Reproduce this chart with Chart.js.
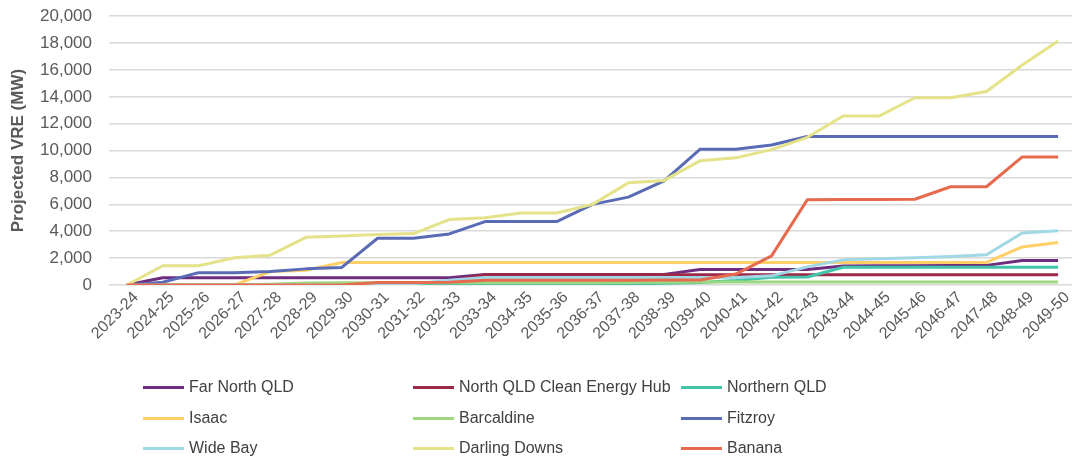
<!DOCTYPE html>
<html>
<head>
<meta charset="utf-8">
<script src="https://cdn.jsdelivr.net/npm/chart.js@4/dist/chart.umd.min.js"></script>
<style>
  html, body { margin: 0; padding: 0; background: #fff; overflow: hidden; }
  #wrap { position: relative; width: 1072px; height: 463px; overflow: hidden; }
  #c { position: absolute; left: 0; top: -11px; }
  #legend { position: absolute; left: 0; top: 0; width: 1072px; height: 463px; pointer-events: none;
            font-family: "Liberation Sans", Arial, sans-serif; font-size: 16px; color: #404040; }
  .item { position: absolute; display: flex; align-items: center; white-space: nowrap; height: 20px; }
  .swatch { width: 41px; height: 3px; margin-right: 5px; }
</style>
</head>
<body>
<div id="wrap">
  <canvas id="c" width="1080" height="474"></canvas>
  <div id="legend"></div>
</div>
<script>
// Financial years on the category axis
const years = ['2023-24','2024-25','2025-26','2026-27','2027-28','2028-29','2029-30','2030-31','2031-32',
  '2032-33','2033-34','2034-35','2035-36','2036-37','2037-38','2038-39','2039-40','2040-41','2041-42',
  '2042-43','2043-44','2044-45','2045-46','2046-47','2047-48','2048-49','2049-50'];

// Projected VRE capacity by zone (MW)
const farNorthQld   = [0,540,540,540,540,540,540,540,540,540,790,790,790,790,790,790,1150,1150,1150,1150,1420,1430,1440,1450,1460,1820,1830];
const northQldHub   = [0,0,0,0,0,0,0,0,0,300,760,760,760,760,760,760,760,760,760,760,760,760,760,760,760,760,760];
const northernQld   = [0,0,0,0,0,0,0,0,0,0,0,0,0,0,80,130,180,330,570,590,1320,1320,1320,1320,1320,1320,1320];
const isaac         = [0,0,0,0,1000,1100,1680,1680,1680,1680,1680,1680,1680,1680,1680,1680,1680,1680,1680,1680,1680,1680,1680,1680,1680,2830,3170];
const barcaldine    = [0,0,0,0,60,150,170,170,170,170,170,170,170,170,190,200,220,220,220,220,220,220,220,220,220,220,220];
const fitzroy       = [0,200,920,920,1000,1200,1310,3480,3480,3800,4720,4720,4720,6000,6540,7750,10100,10100,10420,11050,11050,11050,11050,11050,11050,11050,11050];
const wideBay       = [0,0,0,0,0,0,0,0,100,350,550,550,550,550,550,550,550,560,680,1350,1870,1950,2020,2120,2250,3870,4040];
const darlingDowns  = [0,1430,1430,2030,2220,3550,3650,3750,3830,4865,5010,5360,5360,6000,7600,7780,9240,9460,10070,10990,12570,12570,13930,13930,14400,16370,18150];
const banana        = [0,0,0,0,0,0,0,180,180,200,350,350,350,350,360,370,370,815,2170,6350,6370,6370,6380,7310,7310,9530,9530];

// Y axis ticks
const yTicks = [0,2000,4000,6000,8000,10000,12000,14000,16000,18000,20000];

const seriesNames  = ['Far North QLD','North QLD Clean Energy Hub','Northern QLD','Isaac','Barcaldine','Fitzroy','Wide Bay','Darling Downs','Banana'];
const seriesData   = [farNorthQld, northQldHub, northernQld, isaac, barcaldine, fitzroy, wideBay, darlingDowns, banana];
const seriesColors = ['#6F2C7E','#9D2847','#41C4A9','#FFD068','#9DD77F','#5A6BB5','#A0D8E6','#E4E38A','#E66A4E'];

const datasets = seriesNames.map((name, i) => ({
  label: name,
  data: seriesData[i],
  borderColor: seriesColors[i],
  backgroundColor: seriesColors[i],
  borderWidth: 3,
  pointRadius: 0,
  tension: 0,
  fill: false,
  borderJoinStyle: 'round',
  order: seriesNames.length - i   // later series paint over earlier ones
}));

const FONT = '"Liberation Sans", Arial, sans-serif';

new Chart(document.getElementById('c'), {
  type: 'line',
  data: { labels: years, datasets },
  options: {
    responsive: false,
    animation: false,
    devicePixelRatio: 1,
    layout: { padding: { top: 5, right: 4, bottom: 108, left: 0 } },
    plugins: { legend: { display: false }, tooltip: { enabled: false } },
    scales: {
      x: {
        offset: true,
        grid: { display: false, drawTicks: false },
        border: { display: false },
        ticks: {
          autoSkip: false,
          minRotation: 45,
          maxRotation: 45,
          padding: 3,
          labelOffset: 9,
          color: '#595959',
          font: { family: FONT, size: 16 }
        },
        afterFit: (s) => { s.height = 70; }
      },
      y: {
        min: 0,
        max: 20000,
        afterBuildTicks: (s) => { s.ticks = yTicks.map(v => ({ value: v })); },
        grid: { color: '#D9D9D9', lineWidth: 1.5, drawTicks: false },
        border: { display: false },
        ticks: {
          padding: 17,
          color: '#595959',
          font: { family: FONT, size: 17 },
          callback: (v) => Number(v).toLocaleString('en-US')
        },
        title: {
          display: true,
          text: 'Projected VRE (MW)',
          color: '#595959',
          font: { family: FONT, size: 17, weight: 'bold' },
          padding: { top: 8, bottom: 0 }
        },
        afterFit: (s) => { s.width = 109; }
      }
    }
  }
});

// Three-column legend below the chart
const legendEl = document.getElementById('legend');
const colX = [143, 413, 681];
const rowY = [387, 418, 448];
seriesNames.forEach((name, i) => {
  const item = document.createElement('div');
  item.className = 'item';
  item.style.left = colX[i % 3] + 'px';
  item.style.top = (rowY[Math.floor(i / 3)] - 10) + 'px';
  const sw = document.createElement('span');
  sw.className = 'swatch';
  sw.style.background = seriesColors[i];
  const tx = document.createElement('span');
  tx.textContent = name;
  item.appendChild(sw);
  item.appendChild(tx);
  legendEl.appendChild(item);
});
</script>
</body>
</html>
